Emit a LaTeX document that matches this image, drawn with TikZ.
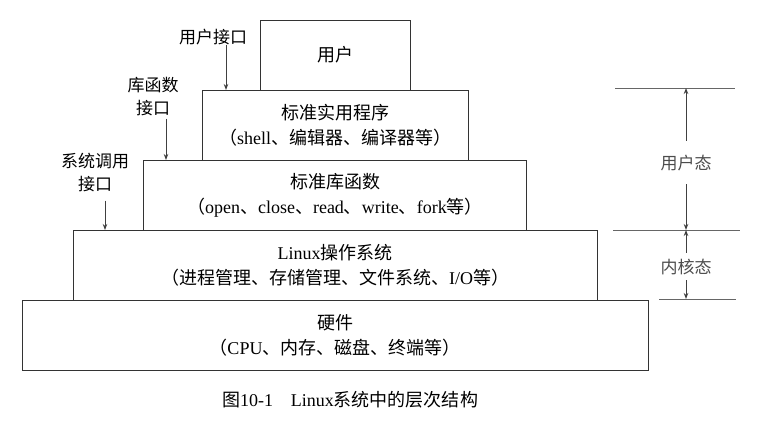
\documentclass[tikz,border=0pt]{standalone}
\usepackage{fontspec}
\setmainfont{Liberation Serif}
\newfontfamily\cjk{Noto Sans CJK SC}
\newcommand\zh[1]{{\cjk #1}}
\usetikzlibrary{arrows.meta,positioning}

\tikzset{
  layer/.style={draw=black!80, line width=0.8pt, minimum height=70pt,
    inner sep=0pt, outer sep=0pt, align=center,
    font=\fontsize{18}{25}\selectfont},
  iface/.style={inner sep=0pt, align=center, font=\fontsize{17}{23}\selectfont},
  mode/.style={inner sep=0pt, text=black!70, font=\fontsize{17}{20}\selectfont},
  rule/.style={draw=black!60, line width=0.6pt},
  call/.style={->, draw=black!75, line width=1pt}
}

\begin{document}
\begin{tikzpicture}[x=1pt, y=1pt, >={Stealth[length=6pt,width=4.5pt]}]
    \useasboundingbox (0,0) rectangle (762,423);
    % the layers, bottom up
    \node[layer, minimum width=626pt] (hw) at (335,88)
        {\zh{硬件}\\\zh{（}CPU\zh{、内存、磁盘、终端等）}};
    \node[layer, minimum width=524pt] (linux) [above=0pt of hw]
        {Linux\zh{操作系统}\\\zh{（进程管理、存储管理、文件系统、}I/O\zh{等）}};
    \node[layer, minimum width=383pt] (lib) [above=0pt of linux]
        {\zh{标准库函数}\\\zh{（}open\zh{、}close\zh{、}read\zh{、}write\zh{、}fork\zh{等）}};
    \node[layer, minimum width=266pt] (util) [above=0pt of lib]
        {\zh{标准实用程序}\\\zh{（}shell\zh{、编辑器、编译器等）}};
    \node[layer, minimum width=150pt] (user) [above=0pt of util] {\zh{用户}};

    % interfaces
    \node[iface] (uif) at (213,386) {\zh{用户接口}};
    \node[iface] (lif) at (153,326) {\zh{库函数}\\\zh{接口}};
    \node[iface] (sif) at (95,250) {\zh{系统调用}\\\zh{接口}};
    \draw[call] ([xshift=13pt]uif.south) -- ([xshift=13pt]uif.south |- util.north);
    \draw[call, shorten <=2pt] ([xshift=13pt]lif.south) -- ([xshift=13pt]lif.south |- lib.north);
    \draw[call, shorten <=8pt] ([xshift=10pt]sif.south) -- ([xshift=10pt]sif.south |- linux.north);

    % user mode / kernel mode
    \coordinate (top l) at (615,335);
    \coordinate (top r) at (735,335);
    \coordinate (mid l) at (613,193);
    \coordinate (mid r) at (740,193);
    \coordinate (bot l) at (659,124);
    \coordinate (bot r) at (736,124);
    \draw[rule] (top l) -- (top r);
    \draw[rule] (mid l) -- (mid r);
    \draw[rule] (bot l) -- (bot r);
    \node[mode] (umode) at (686,260) {\zh{用户态}};
    \node[mode] (kmode) at (686,156) {\zh{内核态}};
    \draw[call, shorten <=14pt] (umode.north) -- (umode.north |- top l);
    \draw[call, shorten <=13pt] (umode.south) -- (umode.south |- mid l);
    \draw[call, shorten <=6pt] (kmode.north) -- (kmode.north |- mid l);
    \draw[call, shorten <=5pt] (kmode.south) -- (kmode.south |- bot l);

    \node[font=\fontsize{18}{20}\selectfont] (caption) at (350,23)
        {\zh{图}10-1\quad Linux\zh{系统中的层次结构}};
\end{tikzpicture}
\end{document}
